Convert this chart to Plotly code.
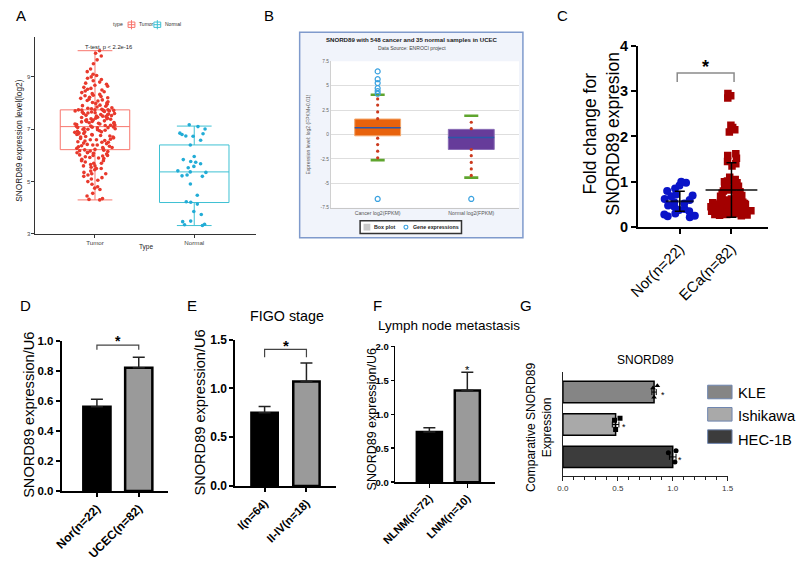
import plotly.graph_objects as go

# ---------------- data ----------------
# Panel A (TCGA box plot)
a_groups = ["Tumor", "Normal"]
a_q1 = [6.22, 4.20]
a_median = [7.10, 5.37]
a_q3 = [7.74, 6.40]
a_low = [4.30, 3.32]
a_high = [10.0, 7.12]
a_tumor_vals = [
    4.3, 4.32, 4.35, 4.45, 4.55, 4.7, 4.75, 4.8, 4.9, 5.0, 5.05, 5.1, 5.15, 5.2, 5.25, 5.3, 5.3, 5.35, 5.4, 5.45,
    5.5, 5.5, 5.55, 5.6, 5.6, 5.65, 5.7, 5.7, 5.75, 5.8, 5.8, 5.85, 5.88, 5.9, 5.92, 5.95, 5.98, 6.0, 6.0, 6.02,
    6.05, 6.08, 6.1, 6.1, 6.12, 6.15, 6.17, 6.18, 6.2, 6.21,
    6.23, 6.25, 6.27, 6.3, 6.3, 6.33, 6.35, 6.37, 6.4, 6.4, 6.42, 6.45, 6.47, 6.5, 6.5, 6.52, 6.55, 6.57, 6.6, 6.6,
    6.62, 6.65, 6.67, 6.7, 6.7, 6.72, 6.74, 6.76, 6.78, 6.8, 6.8, 6.82, 6.84, 6.86, 6.88, 6.9, 6.9, 6.92, 6.94, 6.96,
    6.98, 7.0, 7.0, 7.02, 7.03, 7.05, 7.06, 7.07, 7.08, 7.09,
    7.11, 7.12, 7.14, 7.15, 7.16, 7.18, 7.2, 7.2, 7.22, 7.23, 7.25, 7.26, 7.28, 7.3, 7.3, 7.32, 7.33, 7.35, 7.36, 7.38,
    7.4, 7.4, 7.42, 7.43, 7.45, 7.46, 7.48, 7.5, 7.5, 7.52, 7.53, 7.55, 7.56, 7.58, 7.6, 7.6, 7.62, 7.63, 7.65, 7.66,
    7.68, 7.7, 7.7, 7.71, 7.72, 7.73, 7.73, 7.74, 7.74, 7.74,
    7.76, 7.78, 7.8, 7.82, 7.85, 7.88, 7.9, 7.92, 7.95, 7.98, 8.0, 8.02, 8.05, 8.08, 8.1, 8.12, 8.15, 8.18, 8.2, 8.22,
    8.25, 8.28, 8.3, 8.33, 8.36, 8.4, 8.43, 8.46, 8.5, 8.53, 8.56, 8.6, 8.64, 8.68, 8.72, 8.76, 8.8, 8.85, 8.9, 8.95,
    9.0, 9.05, 9.1, 9.2, 9.3, 9.5, 9.65, 9.8, 9.9, 10.0,
]
a_normal_vals = [7.17, 7.10, 7.01, 6.85, 6.80, 6.74, 6.73, 6.58, 6.40, 5.96, 5.84, 5.77, 5.74, 5.68, 5.58, 5.53,
                 5.41, 5.37, 5.35, 5.25, 5.22, 5.20, 4.91, 4.48, 4.23, 4.21, 4.14, 3.86, 3.74, 3.49, 3.47, 3.37,
                 3.35, 3.32, 6.83]

# Panel B (ENCORI box plot)
b_groups = ["Cancer log2(FPKM)", "Normal log2(FPKM)"]
b_q1 = [-0.13, -1.53]
b_median = [0.70, -0.30]
b_q3 = [1.59, 0.53]
b_cap_low = [-2.62, -4.41]
b_cap_high = [4.08, 1.92]
b_dots_cancer = [3.65, 3.02, 2.32, 1.63, -0.37, -1.03, -1.70, -2.39]
b_dots_normal = [1.26, 0.60, -1.53, -2.16, -2.86, -3.52, -4.19]
b_out_cancer = [6.47, 5.67, 5.28, 4.75, 4.45, 4.18, -6.6]
b_out_normal = [-6.6]

# Panel C (fold change scatter)
c_groups = ["Nor(n=22)", "ECa(n=82)"]
c_nor_vals = [1.0, 0.98, 0.92, 0.85, 0.8, 0.72, 0.7, 0.68, 0.62, 0.6, 0.55, 0.52, 0.48, 0.45, 0.4, 0.38,
              0.35, 0.3, 0.28, 0.25, 0.24, 0.22]
c_eca_vals = [2.95, 2.9, 2.85, 2.25, 2.2, 2.15, 2.1, 1.62, 1.58, 1.52, 1.45, 1.4, 1.35,
              1.1, 1.05, 1.02, 1.0, 0.98, 0.95, 0.92, 0.9, 0.88, 0.85, 0.82, 0.8, 0.78, 0.75, 0.72, 0.7,
              0.68, 0.65, 0.62, 0.6,
              0.58, 0.57, 0.56, 0.55, 0.55, 0.54, 0.53, 0.52, 0.52, 0.51, 0.5, 0.5, 0.49, 0.48, 0.48, 0.47,
              0.46, 0.46, 0.45, 0.45, 0.44, 0.43, 0.43, 0.42, 0.42, 0.41, 0.4, 0.4, 0.39, 0.38, 0.38, 0.37,
              0.36, 0.36, 0.35, 0.35, 0.34, 0.33, 0.33, 0.32, 0.31, 0.3, 0.3, 0.29, 0.28, 0.28, 0.27, 0.26, 0.25]
c_mean = [0.57, 0.82]
c_sd = [0.22, 0.60]

# Panel D
d_groups = ["Nor(n=22)", "UCEC(n=82)"]
d_vals = [0.56, 0.82]
d_err = [0.05, 0.07]
# Panel E
e_groups = ["I(n=64)", "II-IV(n=18)"]
e_vals = [0.75, 1.07]
e_err = [0.065, 0.19]
# Panel F
f_groups = ["NLNM(n=72)", "LNM(n=10)"]
f_vals = [0.74, 1.35]
f_err = [0.06, 0.27]
# Panel G
g_lines = ["KLE", "Ishikawa", "HEC-1B"]
g_vals = [0.83, 0.48, 1.00]
g_err = [0.02, 0.03, 0.03]
g_points = [[0.82, 0.86, 0.83], [0.47, 0.52, 0.48], [0.96, 1.02, 1.03]]
g_colors = ["#858585", "#a9a9a9", "#3c3c3c"]

# ---------------- helpers ----------------
W, H = 798, 561
FONT = "Liberation Sans, Arial, sans-serif"


def dom_x(a, b):
    return [a / W, b / W]


def dom_y(top, bot):
    return [1 - bot / H, 1 - top / H]


def PX(x):
    return x / W


def PY(y):
    return 1 - y / H


fig = go.Figure()

# ---------------- Panel A ----------------
a_colors_line = ["#f8766d", "#3ec1d3"]
a_colors_pts = ["#e8392c", "#22acd6"]
for i, g in enumerate(a_groups):
    fig.add_trace(go.Box(x=[i], q1=[a_q1[i]], median=[a_median[i]], q3=[a_q3[i]],
                         lowerfence=[a_low[i]], upperfence=[a_high[i]], width=0.7,
                         fillcolor="rgba(0,0,0,0)", line=dict(color=a_colors_line[i], width=1),
                         boxpoints=False, showlegend=False, hoverinfo="skip", xaxis="x", yaxis="y"))
a_pts = [a_tumor_vals, a_normal_vals]
a_jit = [0.6, 0.55]
for i, g in enumerate(a_groups):
    fig.add_trace(go.Box(x=[i] * len(a_pts[i]), y=a_pts[i], boxpoints="all", jitter=a_jit[i], pointpos=0,
                         width=0.7, fillcolor="rgba(0,0,0,0)", line=dict(color="rgba(0,0,0,0)", width=0),
                         marker=dict(color=a_colors_pts[i], size=3.6), showlegend=False, hoverinfo="skip",
                         xaxis="x", yaxis="y"))

# ---------------- Panel B ----------------
b_colors = ["#e8620c", "#663c9a"]
b_border = ["#f3a66a", "#8a6db5"]
b_hw = 0.245
fig.add_trace(go.Bar(x=[0, 1], base=b_q1, y=[b_q3[i] - b_q1[i] for i in range(2)], width=2 * b_hw,
                     marker=dict(color=b_colors, line=dict(color=b_border, width=1)),
                     showlegend=False, hoverinfo="skip", xaxis="x2", yaxis="y2"))
med_x, med_y, cap_x, cap_y = [], [], [], []
cap_hw = 0.075
for i in range(2):
    med_x += [i - b_hw, i + b_hw, None]
    med_y += [b_median[i], b_median[i], None]
    for v in (b_cap_low[i], b_cap_high[i]):
        cap_x += [i - cap_hw, i + cap_hw, None]
        cap_y += [v, v, None]
fig.add_trace(go.Scatter(x=med_x, y=med_y, mode="lines", line=dict(color="#2b57a8", width=1.4),
                         showlegend=False, hoverinfo="skip", xaxis="x2", yaxis="y2"))
fig.add_trace(go.Scatter(x=cap_x, y=cap_y, mode="lines", line=dict(color="#5fa52e", width=2.6),
                         showlegend=False, hoverinfo="skip", xaxis="x2", yaxis="y2"))
fig.add_trace(go.Scatter(x=[0] * len(b_dots_cancer) + [1] * len(b_dots_normal), y=b_dots_cancer + b_dots_normal,
                         mode="markers", marker=dict(color="#cc3a1e", size=3.2),
                         showlegend=False, hoverinfo="skip", xaxis="x2", yaxis="y2"))
fig.add_trace(go.Scatter(x=[0] * len(b_out_cancer) + [1] * len(b_out_normal), y=b_out_cancer + b_out_normal,
                         mode="markers", marker=dict(symbol="circle-open", color="#3aa2e0", size=5,
                                                     line=dict(width=1.2)),
                         showlegend=False, hoverinfo="skip", xaxis="x2", yaxis="y2"))

# ---------------- Panel C ----------------
fig.add_trace(go.Box(x=[0] * len(c_nor_vals), y=c_nor_vals, boxpoints="all", jitter=1.0, pointpos=0, width=0.75,
                     fillcolor="rgba(0,0,0,0)", line=dict(color="rgba(0,0,0,0)", width=0),
                     marker=dict(color="#0a14c8", size=8, symbol="circle"), showlegend=False, hoverinfo="skip",
                     xaxis="x3", yaxis="y3"))
fig.add_trace(go.Box(x=[1] * len(c_eca_vals), y=c_eca_vals, boxpoints="all", jitter=1.0, pointpos=0, width=0.85,
                     fillcolor="rgba(0,0,0,0)", line=dict(color="rgba(0,0,0,0)", width=0),
                     marker=dict(color="#a30000", size=7.5, symbol="square"), showlegend=False, hoverinfo="skip",
                     xaxis="x3", yaxis="y3"))
fig.add_trace(go.Scatter(x=[0, 1], y=c_mean, mode="markers",
                         marker=dict(symbol="line-ew", size=[20, 37], line=dict(color="black", width=2)),
                         error_y=dict(type="data", array=c_sd, color="black", thickness=1.5, width=5),
                         showlegend=False, hoverinfo="skip", xaxis="x3", yaxis="y3"))
fig.add_trace(go.Scatter(x=[-0.05, -0.05, 1.05, 1.05], y=[3.2, 3.4, 3.4, 3.2], mode="lines",
                         line=dict(color="#8a8a8a", width=1.5), showlegend=False, hoverinfo="skip",
                         xaxis="x3", yaxis="y3"))


# ---------------- Panels D, E, F ----------------
def bar_panel(vals, errs, xa, ya, width, lw):
    fig.add_trace(go.Bar(x=[0, 1], y=vals, width=width,
                         marker=dict(color=["#000000", "#9a9a9a"], line=dict(color="black", width=lw)),
                         error_y=dict(type="data", symmetric=False, array=errs, arrayminus=[0, 0],
                                      color="#222", thickness=1.5, width=6),
                         showlegend=False, hoverinfo="skip", xaxis=xa, yaxis=ya))


bar_panel(d_vals, d_err, "x4", "y4", 0.65, 2.5)
bar_panel(e_vals, e_err, "x5", "y5", 0.63, 2.5)
bar_panel(f_vals, f_err, "x6", "y6", 0.66, 2.5)
fig.add_trace(go.Scatter(x=[0, 0, 1, 1], y=[0.94, 0.97, 0.97, 0.94], mode="lines",
                         line=dict(color="#444", width=1.2), showlegend=False, hoverinfo="skip",
                         xaxis="x4", yaxis="y4"))
fig.add_trace(go.Scatter(x=[0, 0, 1, 1], y=[1.32, 1.40, 1.40, 1.32], mode="lines",
                         line=dict(color="#444", width=1.2), showlegend=False, hoverinfo="skip",
                         xaxis="x5", yaxis="y5"))

# ---------------- Panel G ----------------
g_pos = [2, 1, 0]
fig.add_trace(go.Bar(x=g_vals, y=g_pos, orientation="h", width=0.66,
                     marker=dict(color=g_colors, line=dict(color="black", width=1.5)),
                     error_x=dict(type="data", array=g_err, color="black", thickness=1, width=3),
                     showlegend=False, hoverinfo="skip", xaxis="x7", yaxis="y7"))
g_sym = ["triangle-up", "square", "circle"]
for i in range(3):
    fig.add_trace(go.Box(x=g_points[i], y=[g_pos[i]] * 3, orientation="h", boxpoints="all", jitter=0.9,
                         pointpos=0, width=0.55, fillcolor="rgba(0,0,0,0)",
                         line=dict(color="rgba(0,0,0,0)", width=0),
                         marker=dict(color="black", size=5, symbol=g_sym[i]), showlegend=False,
                         hoverinfo="skip", xaxis="x7", yaxis="y7"))


# ---------------- axes ----------------
def gp_axis(domain, rng, anchor, **kw):
    d = dict(domain=domain, range=rng, anchor=anchor, showline=True, linecolor="black", linewidth=2,
             ticks="outside", ticklen=4, tickwidth=2, tickcolor="black", showgrid=False, zeroline=False,
             fixedrange=True)
    d.update(kw)
    return d


bold = dict(family=FONT, color="black", weight="bold")

fig.update_layout(
    width=W, height=H, margin=dict(l=0, r=0, t=0, b=0), autosize=False,
    paper_bgcolor="white", plot_bgcolor="rgba(0,0,0,0)",
    barmode="overlay", boxmode="overlay", font=dict(family=FONT, color="black"),
    # A
    xaxis=dict(domain=dom_x(22, 248), range=[-0.6, 1.62], anchor="y", tickvals=[0, 1], ticktext=a_groups,
               showline=True, linecolor="#333", linewidth=1, ticks="outside", ticklen=3, tickcolor="#333",
               tickfont=dict(size=6.2, color="#444"), showgrid=False, zeroline=False),
    yaxis=dict(domain=dom_y(30, 233), range=[3, 10.52], anchor="x", tickvals=[3, 5, 7, 9],
               showline=True, linecolor="#333", linewidth=1, ticks="outside", ticklen=3, tickcolor="#333",
               tickfont=dict(size=6, color="#444"), showgrid=False, zeroline=False),
    # B
    xaxis2=dict(domain=dom_x(325, 518), range=[-0.5, 1.51], anchor="y2", tickvals=[0, 1], ticktext=b_groups,
                showline=True, linecolor="#c8c8c8", linewidth=1, ticks="", showgrid=False, zeroline=False,
                tickfont=dict(size=5.2, color="#555")),
    yaxis2=dict(domain=dom_y(55, 206), range=[-7.5, 7.5], anchor="x2",
                tickvals=[-7.5, -5, -2.5, 0, 2.5, 5, 7.5], ticktext=["-7.5", "-5", "-2.5", "0", "2.5", "5", "7.5"],
                showline=True, linecolor="#d0d0d0", linewidth=1, ticks="", showgrid=True, gridcolor="#dedede",
                zeroline=False, tickfont=dict(size=4.8, color="#666")),
    # C
    xaxis3=gp_axis(dom_x(640, 773), [-0.81, 1.70], "y3", tickvals=[0, 1], ticktext=c_groups, tickangle=-45,
                   tickfont=dict(size=15, family=FONT, color="black"), ticklen=5),
    yaxis3=gp_axis(dom_y(39, 226), [0, 4], "x3", tickvals=[0, 1, 2, 3, 4], tickfont=dict(size=14.5, **bold),
                   ticklen=5),
    # D
    xaxis4=gp_axis(dom_x(49, 158), [-0.84, 1.70], "y4", tickvals=[0, 1], ticktext=d_groups, tickangle=-45,
                   tickfont=dict(size=12, **bold)),
    yaxis4=gp_axis(dom_y(343, 498), [0, 1.0], "x4", tickvals=[0, 0.2, 0.4, 0.6, 0.8, 1.0], tickformat=".1f",
                   tickfont=dict(size=11.5, **bold)),
    # E
    xaxis5=gp_axis(dom_x(227, 330), [-0.70, 1.70], "y5", tickvals=[0, 1], ticktext=e_groups, tickangle=-45,
                   tickfont=dict(size=11.5, **bold)),
    yaxis5=gp_axis(dom_y(342, 493), [0, 1.5], "x5", tickvals=[0, 0.5, 1.0, 1.5], tickformat=".1f",
                   tickfont=dict(size=12, **bold)),
    # F
    xaxis6=gp_axis(dom_x(391, 493), [-0.9, 1.72], "y6", tickvals=[0, 1], ticktext=f_groups, tickangle=-45,
                   tickfont=dict(size=11, **bold), linewidth=1.5, tickwidth=1.5),
    yaxis6=gp_axis(dom_y(349, 489), [0, 2.0], "x6", tickvals=[0, 0.5, 1.0, 1.5, 2.0], tickformat=".1f",
                   tickfont=dict(size=9.5, **bold), linewidth=1.5, tickwidth=1.5, ticklen=3),
    # G
    xaxis7=dict(domain=dom_x(563, 732), range=[0, 1.5], anchor="y7", tickvals=[0, 0.5, 1.0, 1.5],
                tickformat=".1f", showline=True, linecolor="#222", linewidth=1, ticks="outside", ticklen=4,
                tickcolor="#222", minor=dict(dtick=0.1, ticks="outside", ticklen=3, tickcolor="#222"),
                tickfont=dict(size=8, color="#333"), showgrid=False, zeroline=False),
    yaxis7=dict(domain=dom_y(375, 483), range=[-0.6, 2.63], anchor="x7", showline=True, linecolor="#222",
                linewidth=1, ticks="", showticklabels=False, showgrid=False, zeroline=False),
)

# ---------------- shapes ----------------
shapes = []
# B frame and plot area
shapes.append(dict(type="rect", xref="paper", yref="paper", x0=PX(293), x1=PX(522), y0=PY(237), y1=PY(25),
                   line=dict(color="#7f9acc", width=1.5), fillcolor="#f1f4fb", layer="below"))
shapes.append(dict(type="rect", xref="paper", yref="paper", x0=PX(325), x1=PX(518), y0=PY(206), y1=PY(55),
                   line=dict(width=0), fillcolor="white", layer="below"))
# B legend
shapes.append(dict(type="rect", xref="paper", yref="paper", x0=PX(355), x1=PX(459), y0=PY(232.5), y1=PY(219.5),
                   line=dict(color="#333", width=1.5), fillcolor="white"))
shapes.append(dict(type="rect", xref="paper", yref="paper", x0=PX(358.5), x1=PX(365.5), y0=PY(229.5), y1=PY(222.5),
                   line=dict(width=0), fillcolor="#c9c9c9"))
shapes.append(dict(type="circle", xref="paper", yref="paper", x0=PX(400), x1=PX(404), y0=PY(228), y1=PY(224),
                   line=dict(color="#3aa2e0", width=1.1)))
# A legend keys
for cx, col in ((120.5, "#f8766d"), (147, "#3ec1d3")):
    shapes.append(dict(type="rect", xref="paper", yref="paper", x0=PX(cx - 3.5), x1=PX(cx + 3.5),
                       y0=PY(20), y1=PY(14.5), line=dict(color=col, width=1)))
    shapes.append(dict(type="line", xref="paper", yref="paper", x0=PX(cx - 3.5), x1=PX(cx + 3.5),
                       y0=PY(17.2), y1=PY(17.2), line=dict(color=col, width=1)))
    shapes.append(dict(type="line", xref="paper", yref="paper", x0=PX(cx), x1=PX(cx),
                       y0=PY(22), y1=PY(12.5), line=dict(color=col, width=1)))
# G legend
for cy, col in zip((396, 419, 442), g_colors):
    shapes.append(dict(type="rect", xref="paper", yref="paper", x0=PX(711.5), x1=PX(736.5), y0=PY(cy + 7),
                       y1=PY(cy - 7), line=dict(color="#6f86b0", width=1), fillcolor=col))
fig.update_layout(shapes=shapes)

# ---------------- annotations ----------------
ann = []


def text(x, y, s, size, angle=0, xanchor="center", color="black", weight="normal"):
    ann.append(dict(x=PX(x), y=PY(y), xref="paper", yref="paper", text=s, showarrow=False, textangle=angle,
                    xanchor=xanchor, yanchor="middle",
                    font=dict(size=size, color=color, family=FONT, weight=weight)))


def dtext(x, y, xa, ya, s, size, weight="normal"):
    ann.append(dict(x=x, y=y, xref=xa, yref=ya, text=s, showarrow=False, xanchor="center", yanchor="middle",
                    font=dict(size=size, color="black", family=FONT, weight=weight)))


# panel letters
for letter, x, y in (("A", 7, 8), ("B", 262, 8), ("C", 563, 8), ("D", 12, 307), ("E", 183, 307),
                     ("F", 373, 307), ("G", 525, 307)):
    text(x, y, letter, 15)

# A texts
text(107, 17, "type", 5.2, color="#333")
text(126, 17, "Tumor", 5, xanchor="left", color="#333")
text(153, 17, "Normal", 5, xanchor="left", color="#333")
text(97, 40, "T-test, p < 2.2e-16", 5.8, color="#222")
text(135, 246, "Type", 6.5, color="#222")
text(5, 137, "SNORD89 expression level(log2)", 8.3, angle=-90, color="#222")

# B texts
text(408, 32, "SNORD89 with 548 cancer and 35 normal samples in UCEC", 6.1, weight="bold", color="#222")
text(408, 41, "Data Source: ENROCI project", 5.1, color="#444")
text(302, 130, "Expression level: log2 (FPKM+0.01)", 5, angle=-90, color="#555")
text(367, 226, "Box plot", 5.3, xanchor="left", weight="bold", color="#222")
text(407.5, 226, "Gene expressions", 5.3, xanchor="left", weight="bold", color="#222")

# C texts
text(602.5, 130, "Fold change for<br>SNORD89 expresion", 17.5, angle=-90)
dtext(0.5, 3.53, "x3", "y3", "*", 18, "bold")

# D/E/F texts
text(16, 420, "SNORD89 expression/U6", 14.6, angle=-90)
text(191, 417, "SNORD89 expression/U6", 14.6, angle=-90)
text(367.5, 424, "SNORD89 expression/U6", 12.5, angle=-90)
text(280, 318, "FIGO stage", 14.3)
text(446, 327, "Lymph node metastasis", 13.5)
dtext(0.5, 1.0, "x4", "y4", "*", 14, "bold")
dtext(0.5, 1.44, "x5", "y5", "*", 15, "bold")
dtext(1, 1.65, "x6", "y6", "*", 11)

# G texts
text(648, 363, "SNORD89", 12)
text(538.5, 433, "Comparative SNORD89<br>Expression", 12.1, angle=-90)
for lab, y in zip(g_lines, (397, 421, 445)):
    text(741, y, lab, 14.7, xanchor="left")
for xv, pos in zip((0.91, 0.56, 1.07), g_pos):
    dtext(xv, pos - 0.08, "x7", "y7", "*", 9)

fig.update_layout(annotations=ann)

fig.write_html("out.html", config={"displayModeBar": False, "staticPlot": True},
               post_script="document.body.style.margin='0';document.body.style.padding='0';")
